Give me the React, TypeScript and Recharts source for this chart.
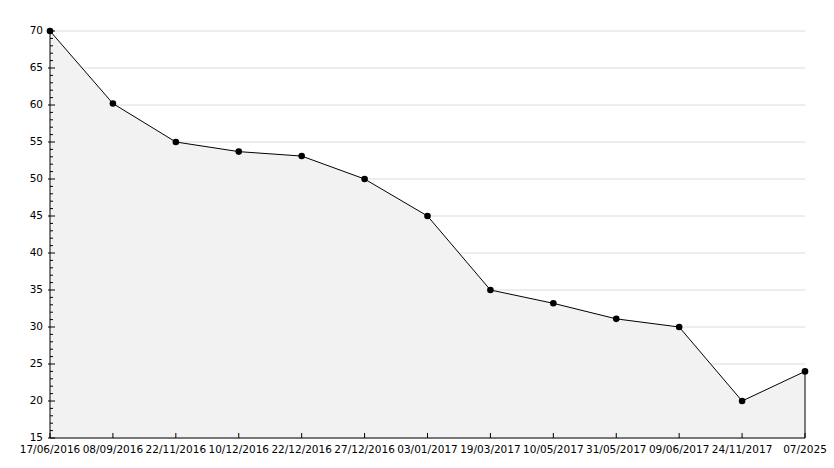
import React from "react";
import {
  ComposedChart,
  Area,
  XAxis,
  YAxis,
  CartesianGrid,
  ReferenceLine,
} from "recharts";

const dates = [
  "17/06/2016",
  "08/09/2016",
  "22/11/2016",
  "10/12/2016",
  "22/12/2016",
  "27/12/2016",
  "03/01/2017",
  "19/03/2017",
  "10/05/2017",
  "31/05/2017",
  "09/06/2017",
  "24/11/2017",
  "07/2025",
];
const values = [70, 60.2, 55, 53.7, 53.1, 50, 45, 35, 33.2, 31.1, 30, 20, 24];

const allTicks: number[] = [];
for (let v = 15; v <= 70; v++) allTicks.push(v);

const data = dates.map((date, i) => ({ date, value: values[i] }));
const lastDate = dates[dates.length - 1];
const lastValue = values[values.length - 1];

const FONT = "DejaVu Sans, Verdana, sans-serif";

function YTick(props: any) {
  const { x, y, payload } = props;
  const major = payload.value % 5 === 0;
  return (
    <g>
      <line
        x1={major ? x - 2 : x}
        x2={major ? x + 5 : x + 3}
        y1={y}
        y2={y}
        stroke="#000"
      />
      {major && (
        <text
          x={x - 7}
          y={y}
          dy={3}
          textAnchor="end"
          fontSize={10.5}
          fontFamily={FONT}
          fill="#000"
        >
          {payload.value}
        </text>
      )}
    </g>
  );
}

function XTick(props: any) {
  const { x, y, payload } = props;
  return (
    <g>
      <line x1={x} x2={x} y1={y - 5} y2={y} stroke="#000" />
      <text
        x={x}
        y={y}
        dy={15}
        textAnchor="middle"
        fontSize={10.5}
        fontFamily={FONT}
        fill="#000"
      >
        {payload.value}
      </text>
    </g>
  );
}

function Dot(props: any) {
  const { cx, cy } = props;
  if (cx == null || cy == null) return null;
  return <circle cx={cx} cy={cy} r={3.3} fill="#000" />;
}

// only draw grid lines on the major (every 5) ticks
function GridLine(props: any) {
  const { x1, x2, y1, y2, index } = props;
  const v = allTicks[index];
  if (v == null || v % 5 !== 0) return <g />;
  return <line x1={x1} x2={x2} y1={y1} y2={y2} stroke="#dcdcdc" />;
}

export default function App() {
  return (
    <div style={{ position: "absolute", left: 0, top: 0, background: "#fff" }}>
      <ComposedChart
        width={834}
        height={468}
        data={data}
        margin={{ top: 31, right: 29, bottom: 0, left: 0 }}
      >
        <CartesianGrid vertical={false} horizontal={(p: any) => <GridLine {...p} />} />
        <XAxis
          dataKey="date"
          interval={0}
          height={30}
          tickSize={0}
          tickMargin={0}
          tickLine={false}
          tick={<XTick />}
          axisLine={{ stroke: "#000" }}
          padding={{ left: 0, right: 0 }}
        />
        <YAxis
          domain={[15, 70]}
          ticks={allTicks}
          interval={0}
          width={50}
          tickSize={0}
          tickMargin={0}
          tickLine={false}
          tick={<YTick />}
          axisLine={{ stroke: "#000" }}
        />
        <Area
          type="linear"
          dataKey="value"
          stroke="#000"
          strokeWidth={1}
          fill="#f2f2f2"
          fillOpacity={1}
          baseValue={15}
          dot={<Dot />}
          activeDot={false}
          isAnimationActive={false}
        />
        <ReferenceLine
          segment={[
            { x: lastDate, y: 15 },
            { x: lastDate, y: lastValue },
          ]}
          stroke="#000"
        />
      </ComposedChart>
    </div>
  );
}
